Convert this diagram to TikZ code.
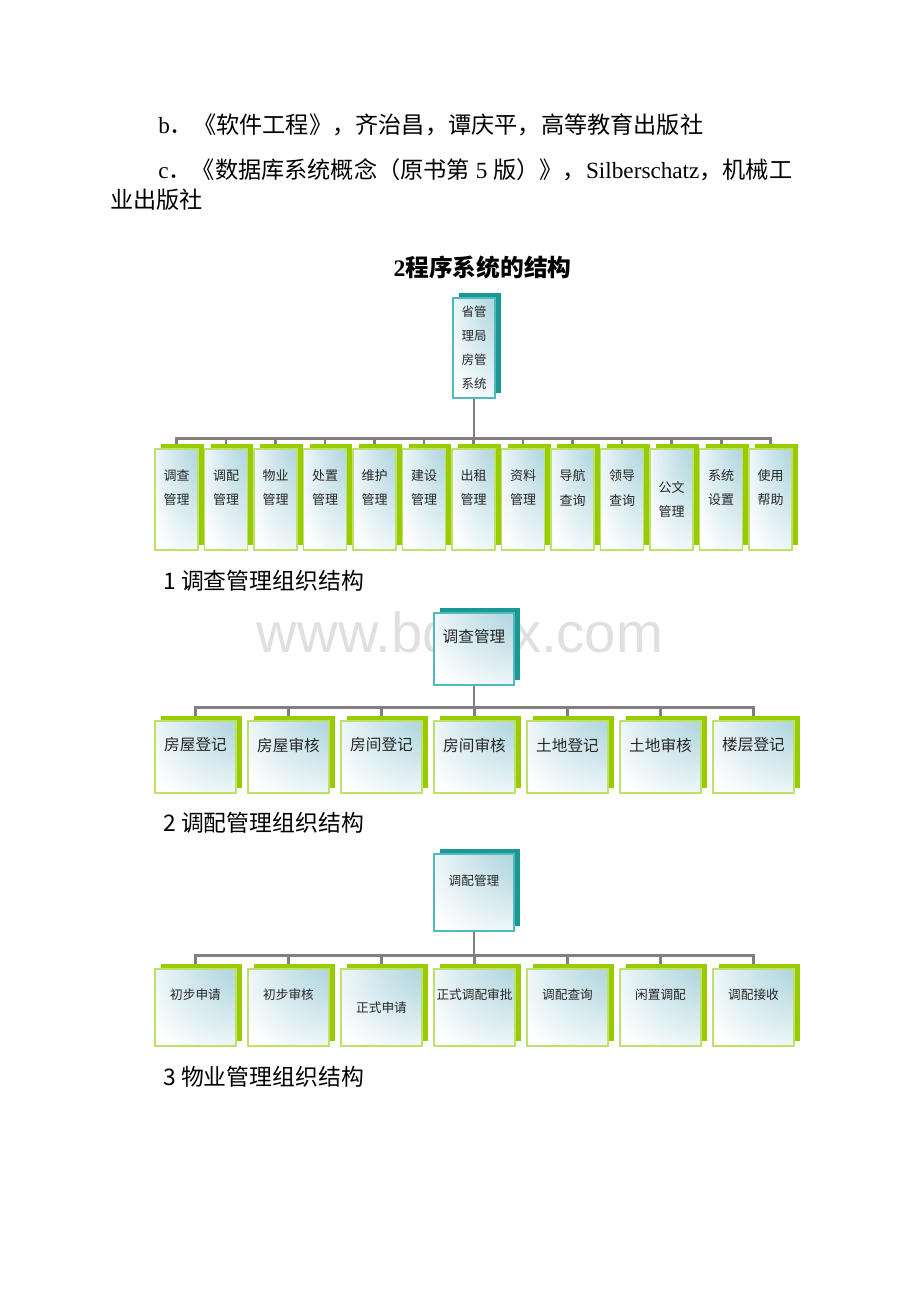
\documentclass[tikz,border=0pt]{standalone}
\usepackage{fontspec}
\setmainfont{Liberation Serif}
\newfontfamily\cjk{Noto Sans CJK SC}
\newfontfamily\wmfont{Liberation Sans}
\usepackage{tikz}
\usetikzlibrary{shadows, backgrounds, calc}
\definecolor{tealshade}{RGB}{26,153,148}
\definecolor{tealedge}{RGB}{80,185,190}
\definecolor{limeshade}{RGB}{153,204,0}
\definecolor{limeedge}{RGB}{190,225,110}
\definecolor{boxtint}{RGB}{165,208,218}
\definecolor{busgray}{RGB}{128,128,128}
\pgfdeclareradialshading{boxglow}{\pgfpoint{42bp}{42bp}}{color(0bp)=(boxtint); color(10bp)=(boxtint); color(55bp)=(white); color(100bp)=(white)}

\begin{document}
\begin{tikzpicture}[x=0.02cm, y=-0.02cm,
        box/.style={inner sep=0pt, line width=0.6pt, shading=boxglow},
        headbox/.style={box, draw=tealedge, general shadow={fill=tealshade, shadow xshift=0.12cm, shadow yshift=0.1cm}},
        leafbox/.style={box, draw=limeedge, general shadow={fill=limeshade, shadow xshift=0.12cm, shadow yshift=0.1cm}},
        bus/.style={draw=busgray, line width=1.7pt},
        para/.style={anchor=west, inner sep=0pt, font=\fontsize{13.2}{15}\selectfont},
        boxtext/.style={align=center, inner sep=0pt, text=black!85}]
        \useasboundingbox (0, 0) rectangle (920, 1302);

        % watermark, under the boxes
        \node[font=\wmfont\fontsize{32}{36}\selectfont, text=black, text opacity=0.12, anchor=base] (mark) at (460, 652) {www.bdocx.com};

        % references and heading
        \node[para] (refb) at (158, 125) {b{\cjk ．《软件工程》，齐治昌，谭庆平，高等教育出版社}};
        \node[para] (refc) at (158, 170) {c{\cjk ．《数据库系统概念（原书第}~5~{\cjk 版）》，}Silberschatz{\cjk ，机械工}};
        \node[para] (refd) at (110, 200) {\cjk 业出版社};
        \node[font=\bfseries\fontsize{13.5}{15}\selectfont] (title) at (482.5, 267) {2{\cjk 程序系统的结构}};

        % whole system
        \node[headbox, boxtext, minimum width=0.84cm, minimum height=2cm, font=\cjk\fontsize{7.1}{13.7}\selectfont] (sys) at (474, 348) {省管\\理局\\房管\\系统};
        \foreach \txt/\dy [count=\i] in {调查\\管理/-11.5, 调配\\管理/-11.5, 物业\\管理/-11.5, 处置\\管理/-11.5,
                维护\\管理/-11.5, 建设\\管理/-11.5, 出租\\管理/-11.5, 资料\\管理/-11.5, 导航\\查询/-11.5,
                领导\\查询/-11.5, 公文\\管理/0, 系统\\设置/-11.5, 使用\\帮助/-11.5} {
                \node[leafbox, minimum width=0.86cm, minimum height=2.02cm] (m\i) at ({176.5 + 49.5*(\i - 1)}, 499.5) {};
                \node[boxtext, font=\cjk\fontsize{7.4}{13.7}\selectfont] at ($(m\i) + (0, \dy)$) {\txt};
            }
        \node[para, font=\cjk\fontsize{13}{15}\selectfont] (cap1) at (163, 581) {1 调查管理组织结构};

        % survey
        \node[headbox, minimum width=1.6cm, minimum height=1.44cm] (survey) at (474, 649) {};
        \node[boxtext, font=\cjk\fontsize{8.9}{10}\selectfont] at ($(survey) + (0, -12)$) {调查管理};
        \foreach \txt [count=\i] in {房屋登记, 房屋审核, 房间登记, 房间审核, 土地登记, 土地审核, 楼层登记} {
                \node[leafbox, minimum width=1.62cm, minimum height=1.44cm] (s\i) at ({195.5 + 93*(\i - 1)}, 757) {};
                \node[boxtext, font=\cjk\fontsize{8.9}{10}\selectfont] at ($(s\i) + (0, -12)$) {\txt};
            }
        \node[para, font=\cjk\fontsize{13}{15}\selectfont] (cap2) at (163, 823) {2 调配管理组织结构};

        % allocation
        \node[headbox, minimum width=1.6cm, minimum height=1.54cm] (alloc) at (474, 892.5) {};
        \node[boxtext, font=\cjk\fontsize{7.2}{9}\selectfont] at ($(alloc) + (0, -11.5)$) {调配管理};
        \foreach \txt/\dy [count=\i] in {初步申请/-12.5, 初步审核/-12.5, 正式申请/0, 正式调配审批/-12.5,
                调配查询/-12.5, 闲置调配/-12.5, 调配接收/-12.5} {
                \node[leafbox, minimum width=1.62cm, minimum height=1.54cm] (t\i) at ({195.5 + 93*(\i - 1)}, 1007.5) {};
                \node[boxtext, font=\cjk\fontsize{7.2}{9}\selectfont] at ($(t\i) + (0, \dy)$) {\txt};
            }
        \node[para, font=\cjk\fontsize{13}{15}\selectfont] (cap3) at (163, 1077) {3 物业管理组织结构};

        % connectors behind the boxes
        \begin{scope}[on background layer]
            \foreach \i in {1, ..., 13} \draw[bus] (sys.south) -- ++(0, 40) -| (m\i.north);
            \foreach \i in {1, ..., 7} {
                    \draw[bus] (survey.south) -- ++(0, 22) -| (s\i.north);
                    \draw[bus] (alloc.south) -- ++(0, 24) -| (t\i.north);
                }
        \end{scope}
    \end{tikzpicture}
\end{document}
